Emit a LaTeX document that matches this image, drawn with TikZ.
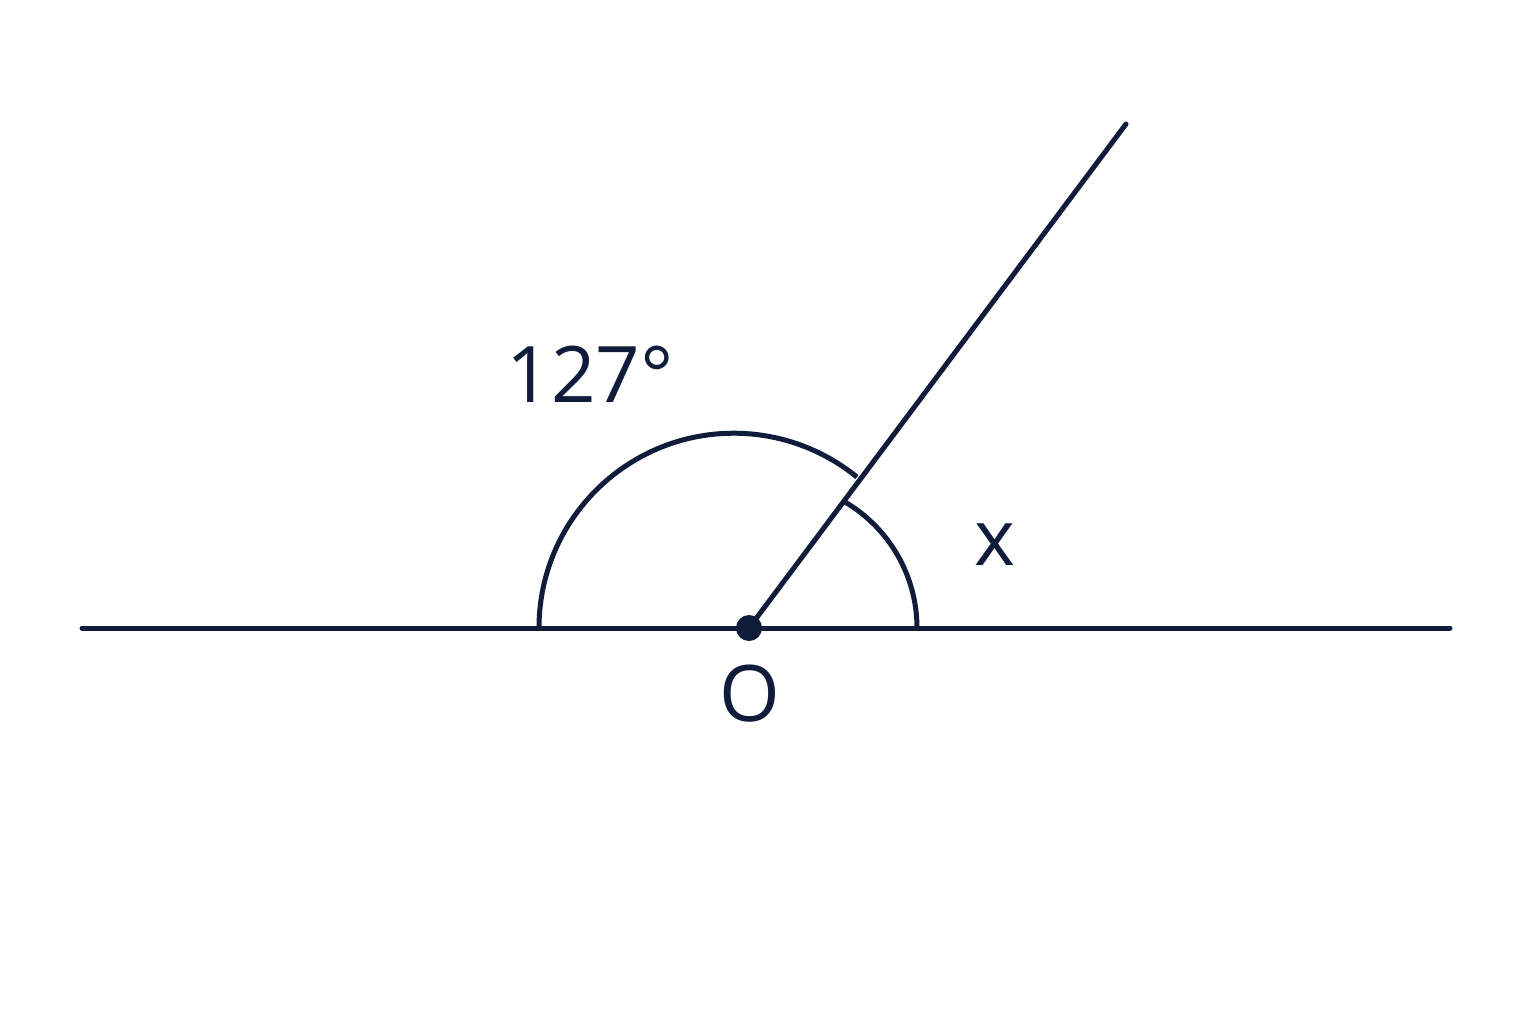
\documentclass[tikz,border=0pt]{standalone}
\usepackage{fontspec}
\setmainfont{Open Sans}
\definecolor{ink}{HTML}{0F1D3A}
\begin{document}
\begin{tikzpicture}[x=0.5pt,y=-0.5pt,
  geo/.style={draw=ink,line width=2.5pt,line cap=round},
  lbl/.style={text=ink,font=\fontsize{39}{47}\selectfont,inner sep=0pt}]
\useasboundingbox (0,0) rectangle (1536,1024);
\coordinate (L) at (82,628);
\coordinate (R) at (1450,628);
\coordinate (O) at (749,628);
\coordinate (T) at (1126,124);
\draw[geo] (L) -- (R);
\draw[geo] (O) -- (T);
% large arc (127 deg)
\draw[geo,line cap=butt] (539,628) arc[start angle=180,end angle=309.2,radius=194.8];
% small arc (x)
\draw[geo,line cap=butt] (917,628) arc[start angle=360,end angle=300.5,radius=146.25];
\fill[ink] (O) circle[radius=13];
\node[lbl,anchor=base] (a) at (590,402) {127°};
\node[lbl,anchor=base] (x) at (995,565) {x};
\node[lbl,anchor=base] (o) at (750,721) {O};
\end{tikzpicture}
\end{document}
